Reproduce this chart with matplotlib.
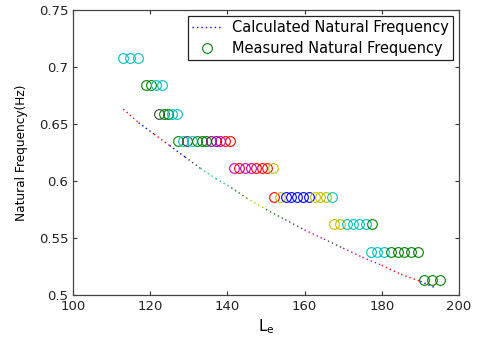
import numpy as np
import matplotlib
matplotlib.use('Agg')
import matplotlib.pyplot as plt
from matplotlib.lines import Line2D

# old MATLAB line colours
mcol = {'b': (0, 0, 1), 'g': (0, 0.5, 0), 'r': (1, 0, 0), 'c': (0, 0.75, 0.75),
        'm': (0.75, 0, 0.75), 'y': (0.75, 0.75, 0), 'k': (0.25, 0.25, 0.25),
        'p': (0.5, 0, 0.5)}

# calculated natural frequency
calc_le = [113, 117, 121, 125, 129, 133, 137, 141, 145, 150, 155, 160, 165, 170, 175, 180, 185, 190, 194]
calc_f = [0.663, 0.651, 0.641, 0.631, 0.621, 0.611, 0.602, 0.594, 0.585, 0.575, 0.566,
          0.557, 0.549, 0.541, 0.533, 0.526, 0.518, 0.512, 0.506]
calc_colors = ['r', 'b', 'r', 'b', 'k', 'c', 'c', 'g', 'y', 'g', 'k', 'm', 'k', 'm', 'm', 'r', 'r', 'b']

# measured natural frequency, one list per frequency level
meas_levels = [0.708, 0.684, 0.659, 0.635, 0.611, 0.586, 0.562, 0.538, 0.513]
meas_le = [
    [113.0, 114.8, 116.7],
    [118.9, 120.2, 121.5, 123.1],
    [122.3, 123.6, 124.6, 125.6, 126.9],
    [127.2, 128.4, 129.6, 130.8, 132.0, 133.3, 134.5, 135.7, 137.0, 138.2, 139.5, 140.7],
    [141.7, 143.1, 144.6, 146.0, 147.4, 148.9, 150.3, 151.8],
    [152.1, 153.6, 155.1, 156.6, 158.1, 159.6, 161.1, 162.6, 164.1, 165.6, 167.1],
    [167.6, 169.2, 170.9, 172.5, 174.2, 175.8, 177.5],
    [177.2, 178.9, 180.7, 182.4, 184.2, 185.9, 187.7, 189.4],
    [190.9, 193.0, 195.1],
]
meas_colors = [
    ['c', 'c', 'c'],
    ['g', 'g', 'c', 'c'],
    ['k', 'g', 'g', 'c', 'c'],
    ['g', 'c', 'k', 'c', 'g', 'g', 'g', 'p', 'p', 'm', 'r', 'r'],
    ['m', 'r', 'm', 'm', 'r', 'r', 'r', 'y'],
    ['r', 'y', 'b', 'b', 'b', 'b', 'b', 'y', 'y', 'y', 'c'],
    ['y', 'y', 'c', 'c', 'c', 'c', 'g'],
    ['c', 'c', 'c', 'g', 'g', 'g', 'g', 'g'],
    ['g', 'g', 'g'],
]

fig = plt.figure(figsize=(4.81, 3.39), dpi=100)
ax = fig.add_axes([0.152, 0.13, 0.802, 0.841])

for i in range(len(calc_le) - 1):
    ax.plot(calc_le[i:i + 2], calc_f[i:i + 2], color=mcol[calc_colors[i]],
            linewidth=1, dashes=(1, 2.2))

for level, les, cols in zip(meas_levels, meas_le, meas_colors):
    for le, c in zip(les, cols):
        ax.plot(le, level, 'o', markersize=7, markerfacecolor='none',
                markeredgecolor=mcol[c], markeredgewidth=0.8)

ax.set_xlim(100, 200)
ax.set_ylim(0.5, 0.75)
ax.set_xticks(np.arange(100, 201, 20))
ax.set_yticks([0.5, 0.55, 0.6, 0.65, 0.7, 0.75])
ax.set_yticklabels(['0.5', '0.55', '0.6', '0.65', '0.7', '0.75'])
ax.tick_params(direction='in', length=3, width=0.8, top=True, right=True,
               labelsize=9.5, colors='#333333', labelcolor='#222222')
for s in ax.spines.values():
    s.set_color('#444444')
    s.set_linewidth(0.9)

ax.set_xlabel(r'$\mathregular{L_e}$', fontsize=11, labelpad=3)
ax.set_ylabel('Natural Frequency(Hz)', fontsize=8.7, labelpad=8)

handles = [Line2D([], [], color='b', linewidth=1, dashes=(1, 2.2)),
           Line2D([], [], marker='o', linestyle='none', markersize=7,
                  markerfacecolor='none', markeredgecolor=mcol['g'], markeredgewidth=0.8)]
leg = ax.legend(handles, ['Calculated Natural Frequency', 'Measured Natural Frequency'],
                loc='upper right', fontsize=10.5, fancybox=False, framealpha=1,
                edgecolor='#222222', borderaxespad=0.4, handlelength=2.0,
                handletextpad=0.7, borderpad=0.3, labelspacing=0.4)
leg.get_frame().set_linewidth(0.9)

fig.savefig('out.png', dpi=100)
